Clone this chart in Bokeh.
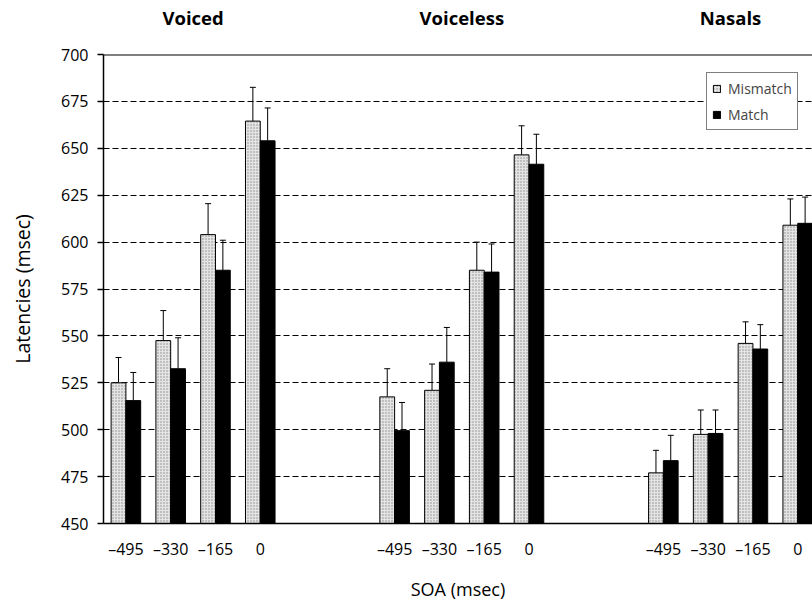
from bokeh.plotting import figure
from bokeh.layouts import column
from bokeh.models import (ColumnDataSource, Whisker, TeeHead, Span, Legend,
                          LegendItem, FixedTicker)
from bokeh.core.properties import value
from bokeh.embed import file_html
from bokeh.resources import INLINE

# ---------------- data ----------------
groups = ["Voiced", "Voiceless", "Nasals"]
soa_labels = ["\u2013495", "\u2013330", "\u2013165", "0"]

mismatch_voiced = [525, 547.5, 604, 664.5]
mismatch_voiceless = [517.5, 521, 585, 646.5]
mismatch_nasals = [477, 497.5, 546, 609]

match_voiced = [515.5, 532.5, 585, 654]
match_voiceless = [499.5, 536, 584, 641.5]
match_nasals = [483.5, 498, 543, 610]

mismatch_err_voiced = [13.5, 16, 16.5, 18]
mismatch_err_voiceless = [15, 14, 15, 15.5]
mismatch_err_nasals = [12, 13, 11.5, 14]

match_err_voiced = [15, 16.5, 16, 17.5]
match_err_voiceless = [15, 18.5, 15, 16]
match_err_nasals = [13.5, 12.5, 13, 14]

y_ticks = [450, 475, 500, 525, 550, 575, 600, 625, 650, 675, 700]

# ---------------- layout helpers ----------------
GROUP_STRIDE = 6
OFF = 0.165
BW = 0.33
FONT = "Open Sans"
Y_MIN, Y_MAX = 450, 700
X_RANGE = (-0.5, 15.33)

mm_vals = [mismatch_voiced, mismatch_voiceless, mismatch_nasals]
m_vals = [match_voiced, match_voiceless, match_nasals]
mm_errs = [mismatch_err_voiced, mismatch_err_voiceless, mismatch_err_nasals]
m_errs = [match_err_voiced, match_err_voiceless, match_err_nasals]

slots, mm_top, m_top, mm_up, m_up = [], [], [], [], []
for gi in range(len(groups)):
    for ci in range(len(soa_labels)):
        slots.append(gi * GROUP_STRIDE + ci)
        mm_top.append(mm_vals[gi][ci])
        m_top.append(m_vals[gi][ci])
        mm_up.append(mm_vals[gi][ci] + mm_errs[gi][ci])
        m_up.append(m_vals[gi][ci] + m_errs[gi][ci])

src_mm = ColumnDataSource(dict(x=[s - OFF for s in slots], top=mm_top, up=mm_up))
src_m = ColumnDataSource(dict(x=[s + OFF for s in slots], top=m_top, up=m_up))

# ---------------- main chart ----------------
p = figure(width=812, height=561, x_range=X_RANGE, y_range=(Y_MIN, Y_MAX),
           output_backend="svg", toolbar_location=None,
           min_border_left=103, min_border_right=0, min_border_top=12, min_border_bottom=80)
p.outline_line_color = None
p.background_fill_color = "white"

p.xgrid.grid_line_color = None
p.ygrid.ticker = FixedTicker(ticks=y_ticks[1:-1])
p.ygrid.grid_line_color = "black"
p.ygrid.grid_line_dash = "6 3"
p.ygrid.grid_line_width = 1
p.add_layout(Span(location=Y_MAX, dimension="width", line_color="black", line_width=2))

r_mm = p.vbar(x="x", top="top", bottom=Y_MIN, width=BW, source=src_mm,
              fill_color="#e4e4e4", line_color="black", line_width=1,
              hatch_pattern="dot", hatch_color="#8a8a8a", hatch_scale=3, hatch_weight=1)
r_m = p.vbar(x="x", top="top", bottom=Y_MIN, width=BW, source=src_m,
             fill_color="black", line_color="black", line_width=1)

for src in (src_mm, src_m):
    w = Whisker(base="x", lower="top", upper="up", source=src, dimension="height",
                line_color="black", line_width=1,
                upper_head=TeeHead(size=6, line_color="black", line_width=1),
                lower_head=None)
    p.add_layout(w)

p.xaxis.ticker = FixedTicker(ticks=slots)
p.xaxis.major_label_overrides = {s: soa_labels[i % 4] for i, s in enumerate(slots)}
p.xaxis.major_tick_line_color = None
p.xaxis.minor_tick_line_color = None
p.xaxis.axis_line_color = "black"
p.xaxis.axis_line_width = 1.5
p.xaxis.major_label_standoff = 8
p.xaxis.axis_label = "SOA (msec)"
p.xaxis.axis_label_standoff = 14

p.yaxis.ticker = FixedTicker(ticks=y_ticks)
p.yaxis.major_tick_out = 6
p.yaxis.major_tick_in = 0
p.yaxis.minor_tick_line_color = None
p.yaxis.axis_line_color = "black"
p.yaxis.axis_line_width = 1.5
p.yaxis.major_tick_line_width = 1.5
p.yaxis.major_label_standoff = 9
p.yaxis.axis_label = "Latencies (msec)"
p.yaxis.axis_label_standoff = 22

for ax in (p.xaxis[0], p.yaxis[0]):
    ax.major_label_text_font = FONT
    ax.major_label_text_font_size = "16px"
    ax.major_label_text_color = "black"
    ax.axis_label_text_font = FONT
    ax.axis_label_text_font_style = "normal"
    ax.axis_label_text_color = "black"
p.xaxis.axis_label_text_font_size = "18px"
p.yaxis.axis_label_text_font_size = "19.5px"

legend = Legend(items=[LegendItem(label="Mismatch", renderers=[r_mm]),
                       LegendItem(label="Match", renderers=[r_m])],
                location=(603, 393))
legend.label_text_font = FONT
legend.label_text_font_size = "14px"
legend.glyph_width = 9
legend.glyph_height = 9
legend.label_height = 20
legend.label_standoff = 7
legend.spacing = 6
legend.padding = 5
legend.margin = 0
legend.border_line_color = "black"
legend.border_line_width = 1
legend.background_fill_alpha = 1
p.add_layout(legend)

# ---------------- group titles strip ----------------
t = figure(width=812, height=42, x_range=p.x_range, y_range=(0, 1),
           output_backend="svg", toolbar_location=None,
           min_border_left=103, min_border_right=0, min_border_top=0, min_border_bottom=0)
t.axis.visible = False
t.grid.visible = False
t.outline_line_color = None
title_src = ColumnDataSource(dict(
    x=[gi * GROUP_STRIDE + (len(soa_labels) - 1) / 2 for gi in range(len(groups))],
    y=[0.595] * len(groups),
    text=groups))
t.text(x="x", y="y", text="text", source=title_src, text_align="center",
       text_baseline="middle", text_font=value(FONT), text_font_size="18.5px",
       text_font_style="bold", text_color="black")

layout = column(t, p, spacing=0)
open("out.html", "w").write(file_html(layout, INLINE))
